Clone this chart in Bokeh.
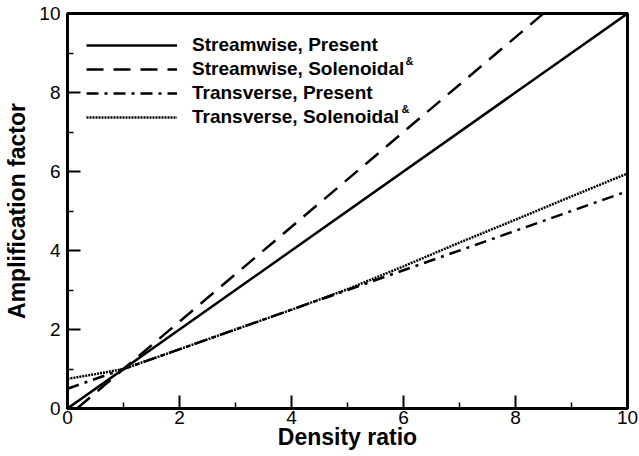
from bokeh.plotting import figure
from bokeh.models import FixedTicker, Legend, LegendItem, Label, Range1d
from bokeh.embed import file_html
from bokeh.resources import INLINE

# ---- data ----
density = [0, 10]
streamwise_present = [0, 10]
streamwise_sol_x = [0.17, 1, 8.5]
streamwise_sol_y = [0, 1, 10]
transverse_present = [0.5, 5.5]
transverse_sol_x = [0, 0.5, 1, 2, 3, 4, 5, 6, 7, 8, 9, 10]
transverse_sol_y = [0.75, 0.87, 1.0, 1.5, 2.0, 2.5, 3.02, 3.6, 4.2, 4.78, 5.37, 5.95]
major_ticks = [0, 2, 4, 6, 8, 10]
minor_ticks = [1, 3, 5, 7, 9]
labels = ["Streamwise, Present", "Streamwise, Solenoidal",
          "Transverse, Present", "Transverse, Solenoidal"]
superscript = "&"

FONT = "Liberation Sans"

p = figure(width=639, height=456, x_range=Range1d(0, 10), y_range=Range1d(0, 10),
           output_backend="svg", toolbar_location=None,
           min_border_left=67, min_border_top=13, min_border_right=12, min_border_bottom=48)
p.background_fill_color = "white"
p.border_fill_color = "white"
p.outline_line_color = "black"
p.outline_line_width = 3
p.xgrid.visible = False
p.ygrid.visible = False

r1 = p.line(density, streamwise_present, line_color="black", line_width=2.5)
r2 = p.line(streamwise_sol_x, streamwise_sol_y, line_color="black", line_width=2.5, line_dash="17 10")
r3 = p.line(density, transverse_present, line_color="black", line_width=2.5, line_dash="12 6 3 6")
r4 = p.line(transverse_sol_x, transverse_sol_y, line_color="black", line_width=2.5, line_dash="2 1")

for ax in (p.xaxis[0], p.yaxis[0]):
    ax.ticker = FixedTicker(ticks=major_ticks, minor_ticks=minor_ticks)
    ax.axis_line_width = 3
    ax.axis_line_color = "black"
    ax.major_tick_in = 13
    ax.major_tick_out = 0
    ax.minor_tick_in = 6
    ax.minor_tick_out = 0
    ax.major_tick_line_width = 2
    ax.minor_tick_line_width = 1.5
    ax.major_label_text_font = FONT
    ax.major_label_text_font_size = "19px"
    ax.major_label_text_color = "black"
    ax.axis_label_text_font = FONT
    ax.axis_label_text_font_style = "bold"
    ax.axis_label_text_font_size = "23px"
    ax.axis_label_text_color = "black"

p.xaxis.major_label_standoff = 2
p.xaxis.axis_label_standoff = -3
p.yaxis.major_label_standoff = 7
p.yaxis.axis_label_standoff = 6

p.xaxis.axis_label = "Density ratio"
p.yaxis.axis_label = "Amplification factor"

legend = Legend(items=[LegendItem(label=labels[0], renderers=[r1]),
                       LegendItem(label=labels[1], renderers=[r2]),
                       LegendItem(label=labels[2], renderers=[r3]),
                       LegendItem(label=labels[3], renderers=[r4])],
                location=(19, 280))
legend.border_line_color = None
legend.background_fill_alpha = 0
legend.label_text_font = FONT
legend.label_text_font_style = "bold"
legend.label_text_font_size = "19px"
legend.label_text_color = "black"
legend.glyph_width = 91
legend.glyph_height = 20
legend.label_height = 20
legend.label_standoff = 15
legend.spacing = 2
legend.padding = 0
legend.margin = 0
p.add_layout(legend, "center")

for lx, ly in ((338, 342), (334, 294)):
    p.add_layout(Label(x=lx, y=ly, x_units="screen", y_units="screen", text=superscript,
                       text_font=FONT, text_font_style="bold", text_font_size="11px",
                       text_color="black"))

open("out.html", "w").write(file_html(p, INLINE))
